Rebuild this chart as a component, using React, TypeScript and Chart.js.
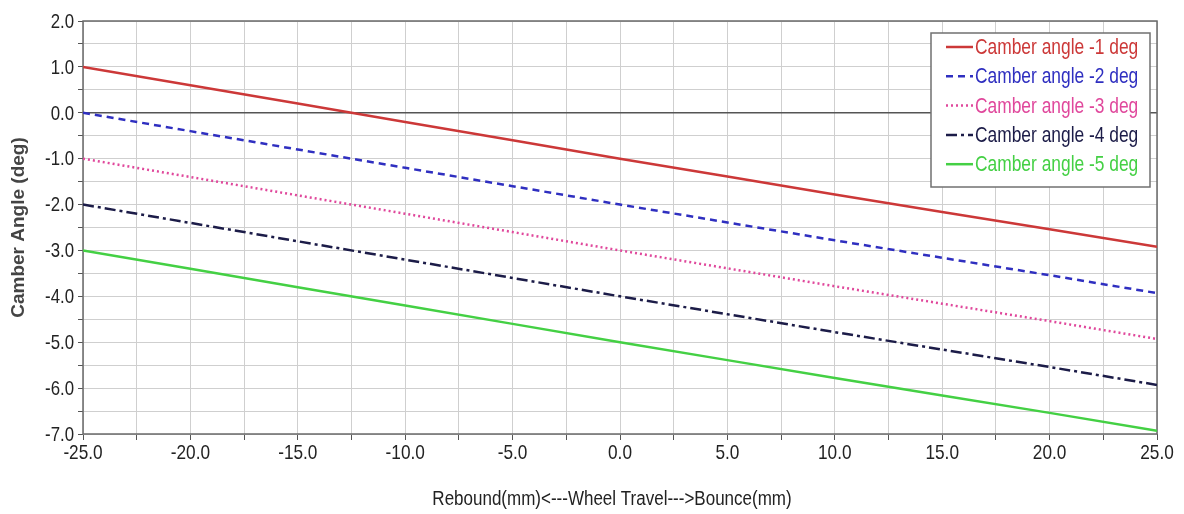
import React, { useEffect, useRef } from "react";
import { Chart, registerables } from "chart.js";

Chart.register(...registerables);

const wheelTravel = [-25, -20, -15, -10, -5, 0, 5, 10, 15, 20, 25];
const camber1 = [1.0, 0.6, 0.2, -0.2, -0.6, -1.0, -1.39, -1.78, -2.16, -2.54, -2.92];
const camber2 = [0.0, -0.4, -0.8, -1.2, -1.6, -2.0, -2.39, -2.78, -3.16, -3.54, -3.93];
const camber3 = [-1.0, -1.4, -1.8, -2.2, -2.6, -3.0, -3.39, -3.78, -4.16, -4.54, -4.93];
const camber4 = [-2.0, -2.4, -2.8, -3.2, -3.6, -4.0, -4.39, -4.78, -5.16, -5.54, -5.93];
const camber5 = [-3.0, -3.4, -3.8, -4.2, -4.6, -5.0, -5.39, -5.78, -6.16, -6.54, -6.93];
const seriesLabels = [
  "Camber angle -1 deg",
  "Camber angle -2 deg",
  "Camber angle -3 deg",
  "Camber angle -4 deg",
  "Camber angle -5 deg",
];
const seriesColors = ["#cc3838", "#2f2fc0", "#e0489c", "#1c1c48", "#44d044"];
const seriesDashes = [[], [7, 5], [2, 3], [11, 4, 3, 4], []];
const xTitle = "Rebound(mm)<---Wheel Travel--->Bounce(mm)";
const yTitle = "Camber Angle (deg)";

const FONT = "'Liberation Sans', Arial, sans-serif";

function drawCondensed(ctx: any, text: string, x: number, y: number, align: string, size: number, sx: number, color: string) {
  ctx.save();
  ctx.font = `${size}px ${FONT}`;
  ctx.fillStyle = color;
  ctx.textBaseline = "middle";
  ctx.textAlign = align;
  ctx.translate(x, y);
  ctx.scale(sx, 1);
  ctx.fillText(text, 0, 0);
  ctx.restore();
}

const framePlugin = {
  id: "frameAndLegend",
  beforeDatasetsDraw(chart: any) {
    const { ctx, chartArea, scales } = chart;
    ctx.save();
    const y0 = scales.y.getPixelForValue(0);
    ctx.strokeStyle = "#555555";
    ctx.lineWidth = 1.5;
    ctx.beginPath();
    ctx.moveTo(chartArea.left, y0);
    ctx.lineTo(chartArea.right, y0);
    ctx.stroke();
    ctx.strokeStyle = "#6a6a6a";
    ctx.lineWidth = 1.5;
    ctx.strokeRect(chartArea.left, chartArea.top, chartArea.right - chartArea.left, chartArea.bottom - chartArea.top);
    ctx.restore();
  },
  afterDraw(chart: any) {
    const { ctx, chartArea, scales } = chart;
    // tick labels (condensed)
    scales.x.ticks.forEach((t: any) => {
      if (Math.abs(t.value % 5) < 1e-9) {
        drawCondensed(ctx, Number(t.value).toFixed(1), scales.x.getPixelForValue(t.value), 453, "center", 21, 0.82, "#222");
      }
    });
    scales.y.ticks.forEach((t: any) => {
      if (Math.abs(t.value % 1) < 1e-9) {
        drawCondensed(ctx, Number(t.value).toFixed(1), chartArea.left - 9, scales.y.getPixelForValue(t.value) + 1, "right", 21, 0.8, "#222");
      }
    });
    drawCondensed(ctx, xTitle, (chartArea.left + chartArea.right) / 2 - 8, 499, "center", 20, 0.85, "#222");

    // legend
    const bx = 931, by = 33, bw = 219, bh = 154;
    ctx.save();
    ctx.fillStyle = "#ffffff";
    ctx.fillRect(bx, by, bw, bh);
    ctx.strokeStyle = "#707070";
    ctx.lineWidth = 1.5;
    ctx.strokeRect(bx, by, bw, bh);
    chart.data.datasets.forEach((ds: any, i: number) => {
      const y = 47 + i * 29.3;
      ctx.strokeStyle = ds.borderColor;
      ctx.lineWidth = 2.5;
      ctx.setLineDash(ds.borderDash || []);
      ctx.beginPath();
      ctx.moveTo(946, y);
      ctx.lineTo(973, y);
      ctx.stroke();
      ctx.setLineDash([]);
      drawCondensed(ctx, ds.label, 975, y + 1, "left", 22, 0.79, ds.borderColor);
    });
    ctx.restore();
  },
};

export default function App() {
  const ref = useRef<HTMLCanvasElement>(null);
  useEffect(() => {
    document.body.style.margin = "0";
    const seriesData = [camber1, camber2, camber3, camber4, camber5];
    const chart = new Chart(ref.current!, {
      type: "line",
      data: {
        datasets: seriesData.map((vals, i) => ({
          label: seriesLabels[i],
          data: wheelTravel.map((x, j) => ({ x, y: vals[j] })),
          borderColor: seriesColors[i],
          backgroundColor: seriesColors[i],
          borderDash: seriesDashes[i],
          borderWidth: 2.5,
          pointRadius: 0,
          tension: 0,
          fill: false,
        })),
      },
      options: {
        animation: false,
        responsive: false,
        maintainAspectRatio: false,
        layout: { padding: { top: 21, right: 27, left: 0, bottom: 0 } },
        plugins: { legend: { display: false }, tooltip: { enabled: false } },
        scales: {
          x: {
            type: "linear",
            min: -25,
            max: 25,
            afterFit: (s: any) => { s.height = 80; },
            ticks: {
              stepSize: 2.5,
              autoSkip: false,
              maxRotation: 0,
              color: "rgba(0,0,0,0)",
              font: { family: FONT, size: 12 },
              callback: (v: any) => (Math.abs(v % 5) < 1e-9 ? Number(v).toFixed(1) : ""),
            },
            grid: { color: "#cfcfcf", lineWidth: 1, tickLength: 6, tickColor: "#555" },
            border: { display: false },
            title: { display: false, text: xTitle },
          },
          y: {
            min: -7,
            max: 2,
            afterFit: (s: any) => { s.width = 83; },
            ticks: {
              stepSize: 0.5,
              autoSkip: false,
              color: "rgba(0,0,0,0)",
              font: { family: FONT, size: 12 },
              callback: (v: any) => (Math.abs(v % 1) < 1e-9 ? Number(v).toFixed(1) : ""),
            },
            grid: { color: "#cfcfcf", lineWidth: 1, tickLength: 5, tickColor: "#555" },
            border: { display: false },
            title: {
              display: true,
              text: yTitle,
              color: "#444",
              font: { family: FONT, size: 19, weight: "bold" },
              padding: { top: 7, bottom: 4 },
            },
          },
        },
      },
      plugins: [framePlugin],
    });
    return () => chart.destroy();
  }, []);
  return <canvas ref={ref} width={1184} height={514} style={{ display: "block" }} />;
}
